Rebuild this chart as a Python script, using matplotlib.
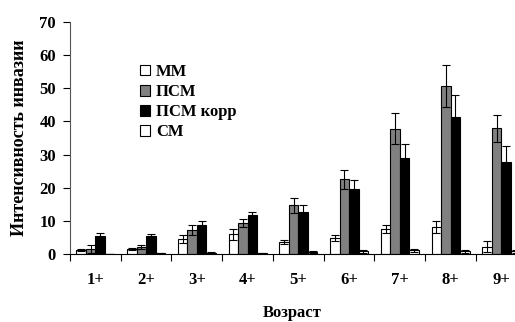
import matplotlib
matplotlib.use("Agg")
import matplotlib.pyplot as plt
import numpy as np

ages = ["1+", "2+", "3+", "4+", "5+", "6+", "7+", "8+", "9+"]
series = ["ММ", "ПСМ", "ПСМ корр", "СМ"]

mm = [1.2, 1.6, 4.4, 5.9, 3.6, 4.8, 7.5, 8.2, 2.2]
mm_err = [0.3, 0.3, 1.2, 1.6, 0.6, 0.8, 1.1, 1.9, 1.6]
psm = [1.5, 2.1, 7.1, 9.3, 14.7, 22.5, 37.8, 50.7, 37.9]
psm_err = [1.1, 0.65, 1.5, 1.2, 2.2, 2.9, 4.7, 6.3, 4.1]
psm_corr = [5.4, 5.4, 8.9, 11.8, 12.7, 19.5, 29.1, 41.2, 27.9]
psm_corr_err = [0.8, 0.6, 1.2, 1.0, 2.1, 2.8, 4.2, 6.8, 4.8]
cm = [0.0, 0.2, 0.4, 0.2, 0.6, 0.8, 1.1, 0.8, 0.8]
cm_err = [0.0, 0.1, 0.2, 0.1, 0.3, 0.4, 0.5, 0.4, 0.4]

plt.rcParams['font.family'] = ['Liberation Serif', 'DejaVu Serif']
plt.rcParams['font.weight'] = 'bold'

fig = plt.figure(figsize=(5.15, 3.22), dpi=100)
ax = fig.add_axes([70/515, 1-254/322, 1-70/515, (254-22)/322])

x = np.arange(len(ages))
w = 0.1875
values = [mm, psm, psm_corr, cm]
errors = [mm_err, psm_err, psm_corr_err, cm_err]
colors = ["white", "#808080", "black", "white"]
for i in range(4):
    ax.bar(x + (i - 1.5) * w, values[i], w, color=colors[i], edgecolor="black",
           linewidth=0.8, yerr=errors[i], capsize=3,
           error_kw=dict(ecolor="black", elinewidth=0.8, capthick=0.8),
           label=series[i])

ax.set_xlim(-0.5, 8.27)
ax.set_ylim(0, 70)
ax.set_yticks(range(0, 71, 10))
ax.set_xticks(x)
ax.set_xticklabels(ages, fontsize=12, fontweight="bold")
ax.set_xticks(np.arange(-0.5, 8.5, 1), minor=True)
ax.tick_params(axis="x", which="major", length=0, pad=13)
ax.tick_params(axis="x", which="minor", length=5, direction="out", width=0.8)
ax.tick_params(axis="y", length=5, width=0.8, labelsize=12, pad=5)
for lab in ax.get_yticklabels():
    lab.set_fontweight("bold")
ax.spines["top"].set_visible(False)
ax.spines["right"].set_visible(False)
ax.spines["left"].set_color("#555555")
ax.set_ylabel("Интенсивность инвазии", fontsize=13, fontweight="bold", labelpad=8)
ax.set_xlabel("Возраст", fontsize=12, fontweight="bold", labelpad=12)

fig.legend(loc="upper left", bbox_to_anchor=(125/515, 1-49/322), frameon=False,
           handlelength=0.6, handleheight=0.6, handletextpad=0.35,
           labelspacing=0.25, prop=dict(weight="bold", size=12))

fig.savefig("out.png", dpi=100)
